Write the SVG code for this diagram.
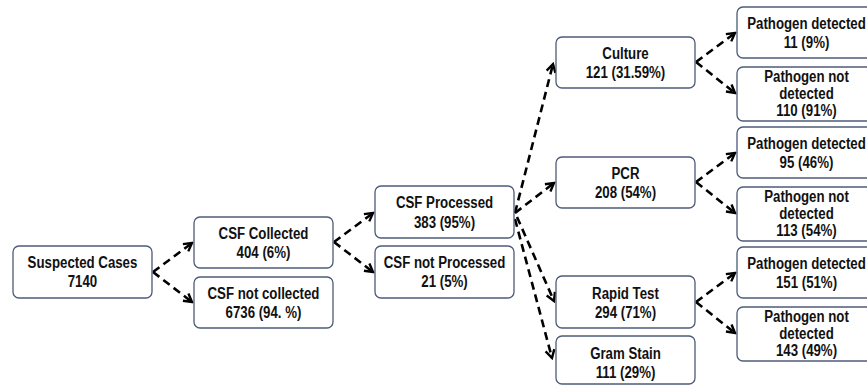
<svg xmlns="http://www.w3.org/2000/svg" width="867" height="387" viewBox="0 0 867 387">
<style>
.box{fill:#ffffff;stroke:#4d5b78;stroke-width:1.3}
text{font-family:"Liberation Sans",Arial,sans-serif;font-weight:bold;font-size:17px;fill:#111111;text-anchor:middle;transform-box:fill-box;transform-origin:center;transform:scaleX(0.78)}
.c line{stroke:#000000;stroke-width:2.6;stroke-dasharray:8 5;fill:none;marker-end:url(#arr)}
</style>
<defs>
<marker id="arr" viewBox="0 0 12 12" refX="10" refY="6" markerWidth="12" markerHeight="12" markerUnits="userSpaceOnUse" orient="auto">
<path d="M2,1.5 L10,6 L2,10.5" fill="none" stroke="#000000" stroke-width="2.4"/>
</marker>
</defs>
<rect width="867" height="387" fill="#ffffff"/>
<g class="c" id="connectors">
<line x1="153" y1="272" x2="192" y2="243"/>
<line x1="153" y1="272" x2="192" y2="302"/>
<line x1="334" y1="242" x2="373" y2="213"/>
<line x1="334" y1="242" x2="373" y2="272"/>
<line x1="515" y1="213" x2="553" y2="64"/>
<line x1="515" y1="213" x2="554" y2="183"/>
<line x1="517" y1="217" x2="554" y2="301"/>
<line x1="515" y1="219" x2="552" y2="358"/>
<line x1="696" y1="62" x2="735" y2="33"/>
<line x1="696" y1="62" x2="735" y2="93"/>
<line x1="696" y1="182" x2="735" y2="153"/>
<line x1="696" y1="182" x2="735" y2="213"/>
<line x1="696" y1="302" x2="735" y2="273"/>
<line x1="696" y1="302" x2="735" y2="333"/>
</g>
<g id="suspected"><rect class="box" x="13" y="246" width="139" height="52" rx="6"/><text x="82.5" y="268.5">Suspected Cases</text><text x="82.5" y="287.5">7140</text></g>
<g id="csf-collected"><rect class="box" x="194" y="217" width="139" height="51" rx="6"/><text x="263.5" y="239">CSF Collected</text><text x="263.5" y="258">404 (6%)</text></g>
<g id="csf-not-collected"><rect class="box" x="194" y="277" width="139" height="51" rx="6"/><text x="263.5" y="299">CSF not collected</text><text x="263.5" y="318">6736 (94. %)</text></g>
<g id="csf-processed"><rect class="box" x="375" y="186" width="139" height="52" rx="6"/><text x="444.5" y="208.5">CSF Processed</text><text x="444.5" y="227.5">383 (95%)</text></g>
<g id="csf-not-processed"><rect class="box" x="375" y="246" width="139" height="52" rx="6"/><text x="444.5" y="268.5">CSF not Processed</text><text x="444.5" y="287.5">21 (5%)</text></g>
<g id="culture"><rect class="box" x="556" y="37" width="139" height="51" rx="6"/><text x="625.5" y="59.5">Culture</text><text x="625.5" y="78.5">121 (31.59%)</text></g>
<g id="pcr"><rect class="box" x="556" y="157" width="139" height="51" rx="6"/><text x="625.5" y="179.5">PCR</text><text x="625.5" y="198">208 (54%)</text></g>
<g id="rapid"><rect class="box" x="556" y="276" width="139" height="52" rx="6"/><text x="625.5" y="299.5">Rapid Test</text><text x="625.5" y="318">294 (71%)</text></g>
<g id="gram"><rect class="box" x="556" y="336" width="139" height="48" rx="6"/><text x="625.5" y="359.5">Gram Stain</text><text x="625.5" y="378">111 (29%)</text></g>
<g id="pd1"><rect class="box" x="737" y="7" width="139" height="51" rx="6"/><text x="806.5" y="29.5">Pathogen detected</text><text x="806.5" y="48">11 (9%)</text></g>
<g id="pnd1"><rect class="box" x="737" y="67" width="139" height="54" rx="6"/><text x="806.5" y="82.5">Pathogen not</text><text x="806.5" y="99.5">detected</text><text x="806.5" y="116.5">110 (91%)</text></g>
<g id="pd2"><rect class="box" x="737" y="127" width="139" height="51" rx="6"/><text x="806.5" y="149.5">Pathogen detected</text><text x="806.5" y="168">95 (46%)</text></g>
<g id="pnd2"><rect class="box" x="737" y="187" width="139" height="54" rx="6"/><text x="806.5" y="202.5">Pathogen not</text><text x="806.5" y="219.5">detected</text><text x="806.5" y="236.5">113 (54%)</text></g>
<g id="pd3"><rect class="box" x="737" y="247" width="139" height="51" rx="6"/><text x="806.5" y="269.5">Pathogen detected</text><text x="806.5" y="288">151 (51%)</text></g>
<g id="pnd3"><rect class="box" x="737" y="307" width="139" height="54" rx="6"/><text x="806.5" y="322.5">Pathogen not</text><text x="806.5" y="339.5">detected</text><text x="806.5" y="356.5">143 (49%)</text></g>
</svg>
